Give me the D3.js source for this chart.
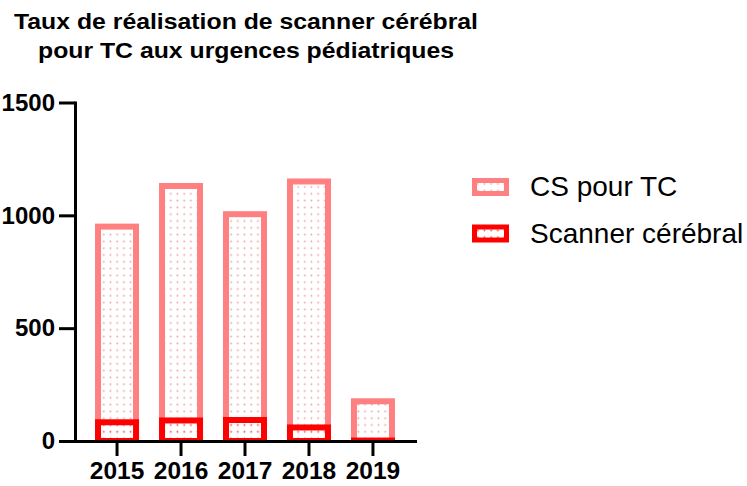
<!DOCTYPE html>
<html>
<head>
<meta charset="utf-8">
<script src="https://cdn.jsdelivr.net/npm/d3@7"></script>
<style>
  body { margin: 0; background: #fff; }
  svg { display: block; font-family: "Liberation Sans", Arial, sans-serif; }
</style>
</head>
<body>
<svg id="chart" width="747" height="486"></svg>
<script>
// data
var years = ["2015", "2016", "2017", "2018", "2019"];
var csPourTC = [950, 1130, 1005, 1150, 176];
var scanner = [83, 91, 93, 60, 2];
var yTicks = [0, 500, 1000, 1500];
var seriesNames = ["CS pour TC", "Scanner cérébral"];
var titleLines = ["Taux de réalisation de scanner cérébral", "pour TC aux urgences pédiatriques"];

var pink = "#ff8080", red = "#ff0000";

var svg = d3.select("#chart");
var defs = svg.append("defs");

// dotted fill, one pattern per series
function makeDots(id, dotColor) {
    var p = defs.append("pattern")
        .attr("id", id)
        .attr("patternUnits", "userSpaceOnUse")
        .attr("width", 6.7)
        .attr("height", 6.8);
    p.append("rect").attr("width", 6.7).attr("height", 6.8).attr("fill", "#fff");
    p.append("circle").attr("cx", 3.3).attr("cy", 3.4).attr("r", 0.9).attr("fill", dotColor);
}
makeDots("dotsPink", "#eea0a0");
makeDots("dotsRed", "#f04444");

var x = d3.scaleBand()
    .domain(years)
    .range([75, 415])
    .paddingInner(0.406)
    .paddingOuter(0.36);

var y = d3.scaleLinear()
    .domain([0, 1500])
    .range([441, 102.5]);

defs.append("clipPath").attr("id", "plotClip")
    .append("rect")
    .attr("x", 60).attr("y", 60)
    .attr("width", 380).attr("height", y(0) - 60);

var bars = svg.append("g").attr("clip-path", "url(#plotClip)");

function drawSeries(vals, color, pat) {
    bars.append("g").selectAll("rect")
        .data(vals)
        .join("rect")
        .attr("x", function(d, i) { return x(years[i]); })
        .attr("width", x.bandwidth())
        .attr("y", function(d) { return y(d); })
        .attr("height", function(d) { return y(0) - y(d); })
        .attr("fill", "url(#" + pat + ")")
        .attr("stroke", color)
        .attr("stroke-width", 6);
}
drawSeries(csPourTC, pink, "dotsPink");
drawSeries(scanner, red, "dotsRed");

// axes
var yAxis = svg.append("g")
    .attr("transform", "translate(75,0)")
    .call(d3.axisLeft(y).tickValues(yTicks).tickFormat(d3.format("d"))
        .tickSize(16).tickSizeOuter(0).tickPadding(4));

var xAxis = svg.append("g")
    .attr("transform", "translate(0," + y(0) + ")")
    .call(d3.axisBottom(x).tickSize(15).tickSizeOuter(0).tickPadding(6));

[yAxis, xAxis].forEach(function(ax) {
    ax.select(".domain").attr("stroke", "#000").attr("stroke-width", 3).attr("stroke-linecap", "square");
    ax.selectAll(".tick line").attr("stroke", "#000").attr("stroke-width", 3);
    ax.selectAll(".tick text")
        .attr("fill", "#000")
        .style("font-family", "'Liberation Sans', Arial, sans-serif")
        .style("font-weight", "bold");
});
yAxis.selectAll(".tick text").style("font-size", "24px");
xAxis.selectAll(".tick text").style("font-size", "24.5px");

// title
svg.append("g").selectAll("text")
    .data(titleLines)
    .join("text")
    .attr("x", 246)
    .attr("y", function(d, i) { return 29 + i * 29; })
    .attr("text-anchor", "middle")
    .attr("textLength", function(d, i) { return i === 0 ? 464 : 416; })
    .attr("lengthAdjust", "spacingAndGlyphs")
    .style("font-weight", "bold")
    .style("font-size", "21.5px")
    .text(function(d) { return d; });

// legend
var legend = svg.append("g").selectAll("g")
    .data(seriesNames)
    .join("g")
    .attr("transform", function(d, i) { return "translate(474.5," + (180.5 + i * 46.5) + ")"; });

legend.append("rect")
    .attr("width", 32)
    .attr("height", 13)
    .attr("fill", function(d, i) { return i === 0 ? "url(#dotsPink)" : "url(#dotsRed)"; })
    .attr("stroke", function(d, i) { return i === 0 ? pink : red; })
    .attr("stroke-width", 5);

legend.append("text")
    .attr("x", 55.5)
    .attr("y", 15.5)
    .style("font-size", "28px")
    .attr("fill", "#000")
    .text(function(d) { return d; });
</script>
</body>
</html>
